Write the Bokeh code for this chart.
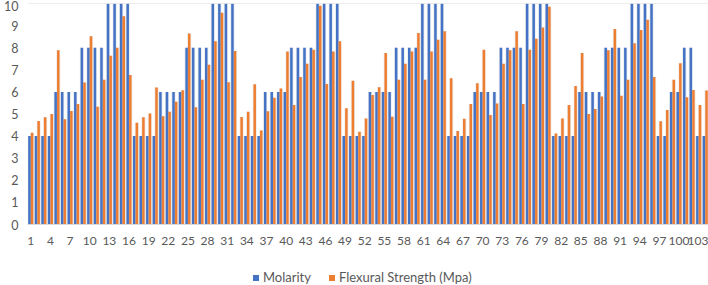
from bokeh.plotting import figure
from bokeh.layouts import column
from bokeh.models import ColumnDataSource, Range1d, FixedTicker, Legend, LegendItem, Span
from bokeh.transform import dodge
from bokeh.embed import file_html
from bokeh.resources import INLINE

categories = list(range(1, 105))
molarity = [
    4, 4, 4, 4, 6, 6, 6, 6, 8, 8, 8, 8, 10, 10, 10, 10,
    4, 4, 4, 4, 6, 6, 6, 6, 8, 8, 8, 8, 10, 10, 10, 10,
    4, 4, 4, 4, 6, 6, 6, 6, 8, 8, 8, 8, 10, 10, 10, 10,
    4, 4, 4, 4, 6, 6, 6, 6, 8, 8, 8, 8, 10, 10, 10, 10,
    4, 4, 4, 4, 6, 6, 6, 6, 8, 8, 8, 8, 10, 10, 10, 10,
    4, 4, 4, 4, 6, 6, 6, 6, 8, 8, 8, 8, 10, 10, 10, 10,
    4, 4, 6, 6, 8, 8, 4, 4,
]
flexural = [
    4.15, 4.68, 4.85, 5.0, 7.88, 4.76, 5.14, 5.45, 6.42, 8.52, 5.33, 6.55, 7.64, 8.0, 9.42, 6.76,
    4.6, 4.85, 5.02, 6.2, 4.9, 5.1, 5.55, 6.08, 8.64, 5.3, 6.55, 7.23, 8.29, 9.58, 6.44, 7.85,
    4.86, 5.1, 6.35, 4.25, 5.13, 5.73, 6.15, 7.83, 5.41, 6.67, 7.27, 7.91, 9.9, 6.36, 7.83, 8.29,
    5.26, 6.5, 4.2, 4.8, 5.86, 6.21, 7.76, 4.88, 6.55, 7.27, 7.83, 8.67, 6.55, 7.83, 8.36, 8.74,
    6.62, 4.23, 4.78, 5.45, 6.39, 7.91, 4.95, 5.48, 7.27, 7.88, 8.74, 5.45, 7.91, 8.41, 8.91, 9.85,
    4.12, 4.8, 5.41, 6.27, 7.76, 5.0, 5.23, 5.79, 7.88, 8.85, 5.83, 6.55, 8.2, 8.8, 9.27, 6.67,
    4.67, 5.18, 6.55, 7.3, 5.76, 6.09, 5.41, 6.06,
]
x_ticks = list(range(1, 105, 3))
y_ticks = list(range(0, 11))
series_names = ["Molarity", "Flexural Strength (Mpa)"]

BLUE = "#4472C4"
ORANGE = "#ED7D31"
TXT = "#595959"
FONT = "Lato"

src = ColumnDataSource(dict(cat=categories, mol=molarity, flex=flexural))

p = figure(width=708, height=252, output_backend="svg", toolbar_location=None,
           x_range=Range1d(0.5, 104.5), y_range=Range1d(0, 10),
           min_border_left=27, min_border_right=0, min_border_top=3, min_border_bottom=28)
p.outline_line_color = None
p.xgrid.grid_line_color = None
p.ygrid.grid_line_color = None
p.background_fill_color = "white"
p.border_fill_color = "white"

p.add_layout(Span(location=10, dimension="width", line_color="#d9d9d9", line_width=1))

# soft shadow behind the bars
p.vbar(x=dodge("cat", -0.2, range=p.x_range), top="mol", width=0.62, source=src,
       fill_color="#8a9bb8", fill_alpha=0.22, line_color=None)
p.vbar(x=dodge("cat", 0.2, range=p.x_range), top="flex", width=0.62, source=src,
       fill_color="#b39a8a", fill_alpha=0.22, line_color=None)

r1 = p.vbar(x=dodge("cat", -0.2, range=p.x_range), top="mol", width=0.38, source=src,
            fill_color=BLUE, line_color=None)
r2 = p.vbar(x=dodge("cat", 0.2, range=p.x_range), top="flex", width=0.38, source=src,
            fill_color=ORANGE, line_color=None)

p.xaxis.ticker = FixedTicker(ticks=x_ticks)
p.yaxis.ticker = FixedTicker(ticks=y_ticks)
for ax in (p.xaxis, p.yaxis):
    ax.major_tick_line_color = None
    ax.minor_tick_line_color = None
    ax.major_tick_out = 0
    ax.major_tick_in = 0
    ax.minor_tick_out = 0
    ax.minor_tick_in = 0
    ax.major_label_text_color = TXT
    ax.major_label_text_font = FONT
p.yaxis.major_label_text_font_size = "12.5px"
p.xaxis.major_label_text_font_size = "12px"
p.yaxis.axis_line_color = None
p.xaxis.axis_line_color = "#d9d9d9"
p.yaxis.major_label_standoff = 9
p.xaxis.major_label_standoff = 12

# legend strip below the chart (helper glyphs lie outside its visible range)
leg = figure(width=708, height=33, output_backend="svg", toolbar_location=None,
             x_range=Range1d(0, 1), y_range=Range1d(0, 1),
             x_axis_location=None, y_axis_location=None,
             min_border_left=0, min_border_right=0, min_border_top=0, min_border_bottom=0)
leg.grid.visible = False
leg.outline_line_color = None
leg_src = ColumnDataSource(dict(x=[5], y=[5]))
g1 = leg.scatter(x="x", y="y", marker="square", size=6, source=leg_src,
                 fill_color=BLUE, line_color=None)
g2 = leg.scatter(x="x", y="y", marker="square", size=6, source=leg_src,
                 fill_color=ORANGE, line_color=None)
legend = Legend(items=[LegendItem(label=series_names[0], renderers=[g1]),
                       LegendItem(label=series_names[1], renderers=[g2])],
                orientation="horizontal", location=(221, 0),
                label_text_font=FONT, label_text_font_size="13px", label_text_color=TXT,
                glyph_width=15, glyph_height=15, label_standoff=0, spacing=13,
                padding=0, margin=0, border_line_color=None, background_fill_alpha=0)
leg.add_layout(legend, "center")

open("out.html", "w").write(file_html(column(p, leg, spacing=0), INLINE))
